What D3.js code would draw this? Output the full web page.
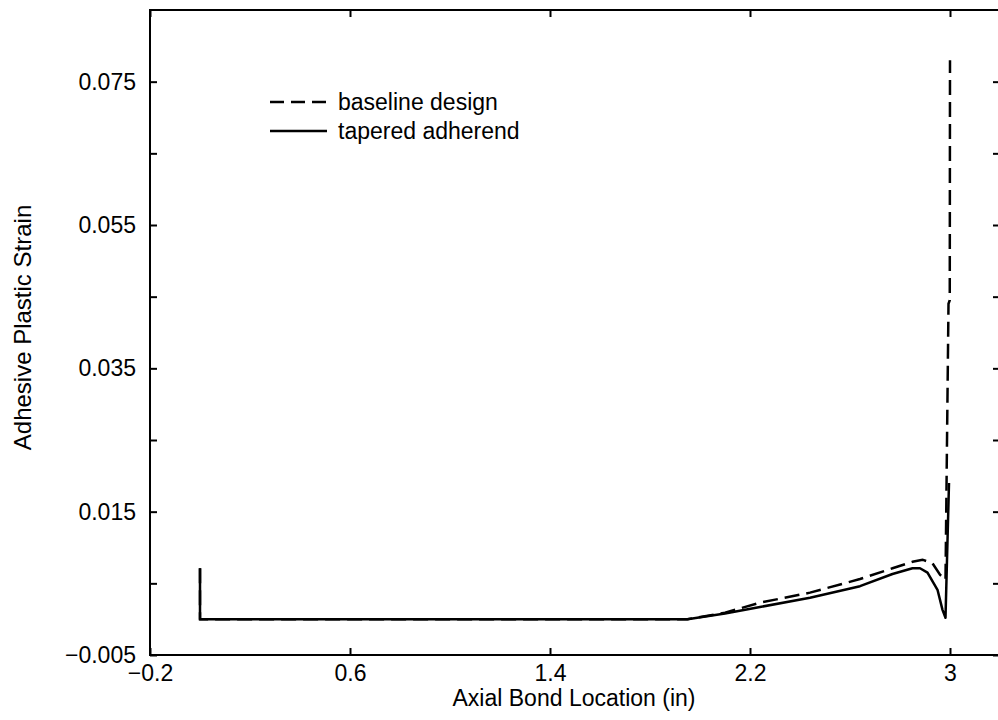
<!DOCTYPE html>
<html>
<head>
<meta charset="utf-8">
<script src="https://cdn.jsdelivr.net/npm/d3@7"></script>
<style>
	body { margin:0; background:#fff; }
	text { font-family: "Liberation Sans", Arial, sans-serif; fill:#000; }
</style>
</head>
<body>
<div id="chart"></div>
<script>
// x values (in) and strains for the two designs
var baselineX = [0.0, 0.0, 0.5, 1.0, 1.5, 1.95, 2.1, 2.24, 2.44, 2.64, 2.77, 2.85, 2.89, 2.93, 2.96, 2.982, 2.994, 2.999, 3.0];
var baselineY = [0.0071, 0.0, 0.0, 0.0, 0.0, 0.0, 0.0009, 0.0023, 0.0037, 0.0056, 0.0071, 0.0080, 0.0083, 0.0078, 0.0062, 0.0055, 0.0440, 0.0445, 0.0780];

var taperedX = [0.0, 0.0, 0.5, 1.0, 1.5, 1.95, 2.1, 2.24, 2.44, 2.64, 2.77, 2.85, 2.88, 2.91, 2.95, 2.97, 2.982, 2.996];
var taperedY = [0.0071, 0.0, 0.0, 0.0, 0.0, 0.0, 0.0008, 0.0017, 0.0030, 0.0046, 0.0063, 0.0071, 0.0071, 0.0065, 0.0041, 0.0013, 0.0002, 0.0190];

var xTicks = [-0.2, 0.6, 1.4, 2.2, 3];
var yTicks = [-0.005, 0.005, 0.015, 0.025, 0.035, 0.045, 0.055, 0.065, 0.075];
var yLabels = [-0.005, 0.015, 0.035, 0.055, 0.075];
var legendNames = ["baseline design", "tapered adherend"];

var width = 998, height = 720;
var mLeft = 150, mRight = 1000, mTop = 10, mBottom = 655;
var fontSize = "23px";

var svg = d3.select("#chart").append("svg")
	.attr("width", width)
	.attr("height", height);

var x = d3.scaleLinear().domain([-0.2, 3.2]).range([mLeft, mRight]);
var y = d3.scaleLinear().domain([-0.005, 0.085]).range([mBottom, mTop]);

function fmtY(v) {
	return d3.format(".3f")(v).replace("-", "\u2212");
}
function fmtX(v) {
	return (v === 3 ? "3" : d3.format(".1f")(v)).replace("-", "\u2212");
}

// frame
svg.append("rect")
	.attr("x", mLeft).attr("y", mTop)
	.attr("width", mRight - mLeft).attr("height", mBottom - mTop)
	.attr("fill", "none")
	.attr("stroke", "#000")
	.attr("stroke-width", 2);

// ticks, pointing inward on all four sides
var bottomAxis = d3.axisBottom(x).tickValues(xTicks).tickSize(-7).tickFormat(fmtX).tickPadding(10);
var topAxis = d3.axisTop(x).tickValues(xTicks).tickSize(-7).tickFormat("");
var leftAxis = d3.axisLeft(y).tickValues(yTicks).tickSize(-7)
	.tickFormat(function(v) { return yLabels.some(function(l) { return Math.abs(l - v) < 1e-9; }) ? fmtY(v) : ""; })
	.tickPadding(14);
var rightAxis = d3.axisRight(y).tickValues(yTicks).tickSize(-7).tickFormat("");

function styleAxis(g) {
	g.select(".domain").remove();
	g.selectAll(".tick line").attr("stroke", "#000").attr("stroke-width", 2);
	g.selectAll(".tick text")
		.style("font-family", "'Liberation Sans', Arial, sans-serif")
		.style("font-size", fontSize)
		.attr("fill", "#000");
}

svg.append("g").attr("transform", "translate(0," + mBottom + ")").call(bottomAxis).call(styleAxis);
svg.append("g").attr("transform", "translate(0," + mTop + ")").call(topAxis).call(styleAxis);
svg.append("g").attr("transform", "translate(" + mLeft + ",0)").call(leftAxis).call(styleAxis);
svg.append("g").attr("transform", "translate(" + mRight + ",0)").call(rightAxis).call(styleAxis);

// axis titles
svg.append("text")
	.attr("x", (mLeft + mRight) / 2 - 1)
	.attr("y", 706)
	.attr("text-anchor", "middle")
	.style("font-size", fontSize)
	.text("Axial Bond Location (in)");

svg.append("text")
	.attr("transform", "translate(31," + ((mTop + mBottom) / 2 - 5) + ") rotate(-90)")
	.attr("text-anchor", "middle")
	.style("font-size", "24px")
	.text("Adhesive Plastic Strain");

// curves
var line = d3.line()
	.x(function(d) { return x(d[0]); })
	.y(function(d) { return y(d[1]); });

var plot = svg.append("g");

plot.append("path")
	.datum(d3.zip(taperedX, taperedY))
	.attr("d", line)
	.attr("fill", "none")
	.attr("stroke", "#000")
	.attr("stroke-width", 2.5)
	.attr("stroke-linejoin", "round");

plot.append("path")
	.datum(d3.zip(baselineX, baselineY))
	.attr("d", line)
	.attr("fill", "none")
	.attr("stroke", "#000")
	.attr("stroke-width", 2.5)
	.attr("stroke-dasharray", "15,7");

// legend
var legend = svg.append("g");
legendNames.forEach(function(name, i) {
	var ly = 102 + i * 29;
	legend.append("line")
		.attr("x1", 270).attr("x2", 327)
		.attr("y1", ly).attr("y2", ly)
		.attr("stroke", "#000")
		.attr("stroke-width", 2.5)
		.attr("stroke-dasharray", i === 0 ? "14,7" : null);
	legend.append("text")
		.attr("x", 338)
		.attr("y", ly + 8)
		.style("font-size", fontSize)
		.text(name);
});
</script>
</body>
</html>
